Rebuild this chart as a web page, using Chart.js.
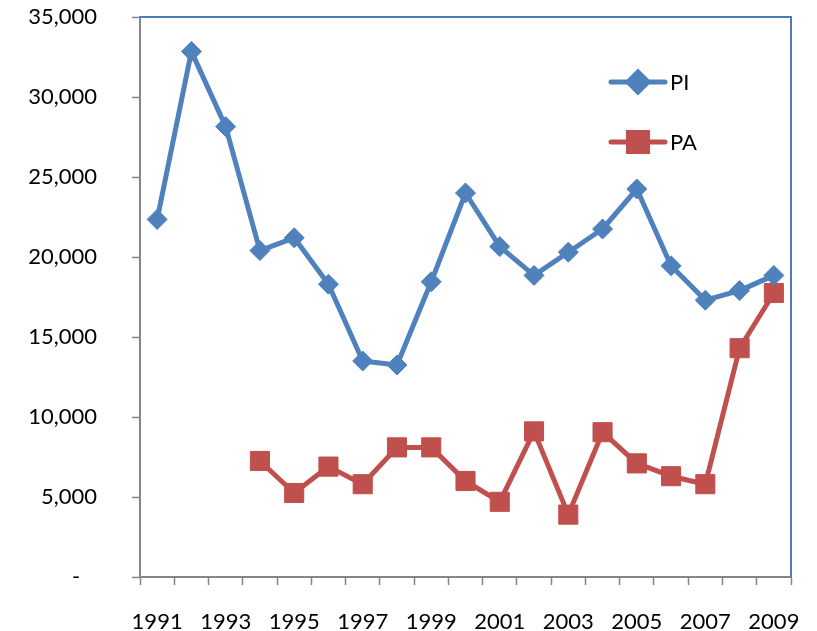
<!DOCTYPE html>
<html>
<head>
<meta charset="utf-8">
<script src="https://cdn.jsdelivr.net/npm/chart.js@4/dist/chart.umd.min.js"></script>
<style>
  html, body { margin: 0; padding: 0; background: #fff; }
  #wrap { width: 817px; height: 631px; }
</style>
</head>
<body>
<div id="wrap"><canvas id="lineChart" width="817" height="631"></canvas></div>
<script>
// data
const years = ["1991", "1992", "1993", "1994", "1995", "1996", "1997", "1998", "1999", "2000",
               "2001", "2002", "2003", "2004", "2005", "2006", "2007", "2008", "2009"];
const piValues = [22350, 32850, 28150, 20400, 21200, 18300, 13500, 13250, 18450, 24000,
                  20650, 18850, 20300, 21750, 24250, 19450, 17300, 17900, 18850];
const paValues = [null, null, null, 7250, 5250, 6900, 5800, 8100, 8100, 6000,
                  4700, 9100, 3900, 9050, 7100, 6300, 5800, 14300, 17750];
const yTicks = [0, 5000, 10000, 15000, 20000, 25000, 30000, 35000];

const blue = '#4F81BD';
const red = '#C0504D';
const axisGray = '#868686';
const fontFamily = 'Lato, "Open Sans", sans-serif';

// plot area border (top and right show in blue)
const plotBorder = {
  id: 'plotBorder',
  beforeDatasetsDraw(chart) {
    const a = chart.chartArea;
    const ctx = chart.ctx;
    ctx.save();
    ctx.strokeStyle = '#4A7EBB';
    ctx.lineWidth = 2;
    ctx.beginPath();
    ctx.moveTo(a.left, a.top);
    ctx.lineTo(a.right, a.top);
    ctx.lineTo(a.right, a.bottom);
    ctx.stroke();
    ctx.restore();
  }
};

// excel style legend: line with marker in the middle
const lineLegend = {
  id: 'lineLegend',
  afterDatasetsDraw(chart) {
    const ctx = chart.ctx;
    const x0 = 611, x1 = 665;
    const rows = [82, 142];
    chart.data.datasets.forEach(function(ds, i) {
      const y = rows[i];
      ctx.save();
      ctx.strokeStyle = ds.borderColor;
      ctx.lineWidth = 5;
      ctx.lineCap = 'round';
      ctx.beginPath();
      ctx.moveTo(x0, y);
      ctx.lineTo(x1, y);
      ctx.stroke();
      Chart.helpers.drawPoint(ctx, {
        pointStyle: ds.pointStyle,
        radius: ds.pointRadius,
        borderWidth: 1
      }, (x0 + x1) / 2, y);
      ctx.fillStyle = ds.borderColor;
      ctx.fill();
      ctx.fillStyle = '#000';
      ctx.font = '22px ' + fontFamily;
      ctx.textBaseline = 'middle';
      ctx.textAlign = 'left';
      ctx.fillText(ds.label, x1 + 5, y + 1);
      ctx.restore();
    });
  }
};

const ctx = document.getElementById("lineChart");

new Chart(ctx, {
  type: 'line',
  data: {
    labels: years,
    datasets: [{
      label: 'PI',
      data: piValues,
      borderColor: blue,
      backgroundColor: blue,
      borderWidth: 5,
      borderJoinStyle: 'round',
      borderCapStyle: 'round',
      pointStyle: 'rectRot',
      pointRadius: 10,
      pointBorderWidth: 1,
      pointBackgroundColor: blue,
      pointBorderColor: blue,
      tension: 0
    }, {
      label: 'PA',
      data: paValues,
      borderColor: red,
      backgroundColor: red,
      borderWidth: 5,
      borderJoinStyle: 'round',
      borderCapStyle: 'round',
      pointStyle: 'rect',
      pointRadius: 13.5,
      pointBorderWidth: 1,
      pointBackgroundColor: red,
      pointBorderColor: red,
      tension: 0
    }]
  },
  options: {
    responsive: false,
    animation: false,
    layout: { padding: { top: 0, right: 26, left: 0, bottom: 0 } },
    plugins: {
      legend: { display: false },
      tooltip: { enabled: false }
    },
    scales: {
      x: {
        type: 'category',
        offset: true,
        grid: {
          offset: true,
          drawOnChartArea: false,
          drawTicks: true,
          tickLength: 8,
          tickWidth: 1.5,
          tickColor: axisGray
        },
        border: { color: axisGray, width: 2 },
        ticks: {
          autoSkip: false,
          maxRotation: 0,
          padding: 24,
          color: '#000',
          font: { family: fontFamily, size: 22 },
          callback: function(v, i) { return i % 2 === 0 ? years[i] : ''; }
        },
        afterFit: function(s) {
          s.height = 54;
          s.paddingLeft = 0;
          s.paddingRight = 0;
        }
      },
      y: {
        min: 0,
        max: 35000,
        afterBuildTicks: function(s) { s.ticks = yTicks.map(v => ({ value: v })); },
        grid: {
          drawOnChartArea: false,
          drawTicks: true,
          tickLength: 8,
          tickWidth: 1.5,
          tickColor: axisGray
        },
        border: { color: axisGray, width: 2 },
        ticks: {
          padding: 35,
          color: '#000',
          font: { family: fontFamily, size: 22 },
          callback: function(v) { return v === 0 ? '-   ' : v.toLocaleString('en-US'); }
        },
        afterFit: function(s) {
          s.width = 140;
          s.paddingTop = 17;
          s.paddingBottom = 0;
        }
      }
    }
  },
  plugins: [plotBorder, lineLegend]
});
</script>
</body>
</html>
